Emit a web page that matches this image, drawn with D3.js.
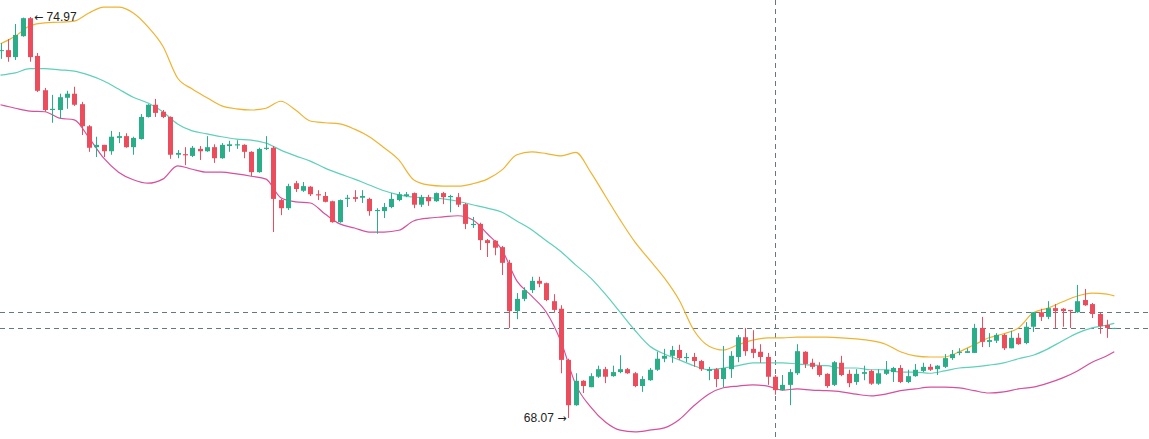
<!DOCTYPE html>
<html><head><meta charset="utf-8">
<script src="https://cdn.jsdelivr.net/npm/d3@7"></script>
<style>html,body{margin:0;padding:0;background:#fff;}svg{display:block;}</style>
</head><body>
<svg id="chart" width="1149" height="439"></svg>
<script>
// ---- data ----
const open = [
74.39,74.40,74.28,74.64,74.95,74.30,73.71,73.37,73.37,73.58,
73.65,73.47,73.09,72.73,72.77,72.66,72.89,72.92,72.73,72.87,
73.25,73.46,73.34,73.25,72.60,72.61,72.58,72.70,72.66,72.73,
72.54,72.75,72.76,72.77,72.65,72.30,72.70,72.72,71.82,71.68,
72.11,71.98,72.05,71.92,71.89,71.80,71.44,71.84,71.87,71.86,
71.84,71.63,71.63,71.70,71.82,71.89,71.94,71.74,71.87,71.80,
71.94,71.87,71.87,71.75,71.39,71.41,71.13,71.12,71.01,70.74,
69.91,70.12,70.27,70.43,70.39,70.08,69.95,69.07,68.29,68.71,
68.60,68.78,68.91,68.79,68.86,68.91,68.84,68.62,68.72,68.90,
69.09,69.14,69.24,69.10,69.12,69.05,68.88,68.91,68.74,68.91,
69.12,69.46,69.26,69.21,69.12,68.78,68.55,68.64,68.84,69.21,
69.02,68.97,68.83,68.64,69.02,68.83,68.69,68.83,68.88,68.66,
68.83,68.86,68.93,68.69,68.79,68.88,68.95,68.91,68.95,69.10,
69.19,69.19,69.19,69.62,69.38,69.40,69.50,69.27,69.45,69.36,
69.64,69.89,69.81,69.96,69.95,69.93,69.89,70.10,70.03,69.86,
69.67,69.61];
const high = [
74.52,74.59,74.85,74.96,74.97,74.35,73.75,73.63,73.65,73.70,
73.77,73.51,73.11,72.91,72.77,73.01,72.99,72.97,72.91,73.30,
73.47,73.56,73.37,73.26,72.68,72.73,72.75,72.75,72.92,72.78,
72.80,72.84,72.85,72.78,72.66,72.72,72.92,72.75,71.84,72.10,
72.15,72.13,72.06,71.99,71.96,71.81,71.83,71.91,71.99,71.99,
71.86,71.68,71.77,71.94,71.96,71.96,71.95,71.91,71.91,71.95,
71.96,71.91,71.94,71.77,71.53,71.43,71.15,71.13,71.03,70.79,
70.22,70.32,70.50,70.50,70.40,70.20,70.01,69.09,68.84,68.72,
68.84,68.97,68.95,68.97,69.15,68.93,68.86,68.79,68.93,69.21,
69.26,69.31,69.33,69.19,69.19,69.07,68.95,68.93,69.31,69.22,
69.50,69.62,69.58,69.34,69.19,68.81,68.81,68.91,69.34,69.22,
69.09,69.03,68.84,69.05,69.14,68.90,68.91,68.97,68.90,68.91,
69.05,68.95,68.98,68.90,69.00,69.02,69.00,68.98,69.17,69.24,
69.27,69.27,69.69,69.81,69.53,69.53,69.52,69.57,69.53,69.72,
69.89,69.95,70.08,70.03,69.96,69.93,70.36,70.29,70.05,69.88,
69.76,69.62];
const low = [
74.25,74.20,74.23,74.63,74.20,73.68,73.34,73.15,73.22,73.39,
73.44,72.94,72.65,72.56,72.56,72.60,72.80,72.72,72.60,72.86,
73.24,73.25,73.23,72.53,72.54,72.42,72.56,72.51,72.65,72.46,
72.53,72.65,72.70,72.54,72.23,72.29,72.68,71.27,71.56,71.65,
71.96,71.96,71.89,71.82,71.78,71.43,71.43,71.70,71.79,71.77,
71.55,71.24,71.51,71.68,71.80,71.87,71.68,71.70,71.72,71.79,
71.75,71.61,71.70,71.32,71.34,70.96,70.84,70.87,70.53,69.62,
69.77,70.08,70.22,70.32,70.08,69.88,68.84,68.07,68.28,68.50,
68.60,68.76,68.67,68.78,68.84,68.83,68.60,68.52,68.71,68.88,
69.03,69.02,69.07,69.03,68.95,68.88,68.72,68.60,68.60,68.76,
69.03,69.14,69.10,69.02,68.64,68.47,68.54,68.29,68.81,68.93,
68.91,68.78,68.59,68.62,68.79,68.60,68.64,68.72,68.64,68.64,
68.81,68.69,68.67,68.67,68.78,68.86,68.88,68.81,68.93,69.07,
69.15,69.19,69.19,69.29,69.29,69.36,69.24,69.27,69.33,69.34,
69.55,69.74,69.77,69.62,69.64,69.62,69.88,70.00,69.79,69.52,
69.45,69.61];
const close = [
74.40,74.28,74.66,74.95,74.28,73.70,73.37,73.39,73.59,73.65,
73.46,73.09,72.72,72.77,72.66,72.91,72.92,72.73,72.89,73.25,
73.46,73.32,73.25,72.60,72.63,72.59,72.72,72.66,72.73,72.54,
72.77,72.78,72.78,72.65,72.30,72.70,72.72,71.84,71.68,72.06,
72.01,72.06,71.92,71.90,71.79,71.44,71.82,71.86,71.84,71.89,
71.63,71.65,71.70,71.84,71.92,71.92,71.74,71.87,71.80,71.94,
71.87,71.89,71.74,71.41,71.41,71.13,71.08,71.00,70.74,69.91,
70.12,70.27,70.43,70.38,70.10,69.93,69.07,68.29,68.71,68.62,
68.79,68.91,68.78,68.86,68.91,68.84,68.62,68.74,68.90,69.09,
69.14,69.24,69.10,69.12,69.05,68.91,68.91,68.74,68.93,69.14,
69.46,69.22,69.19,69.12,68.78,68.55,68.64,68.86,69.22,69.00,
68.95,68.81,68.62,69.03,68.81,68.67,68.83,68.86,68.66,68.84,
68.90,68.93,68.69,68.79,68.90,68.95,68.90,68.97,69.10,69.17,
69.21,69.22,69.62,69.38,69.41,69.50,69.27,69.45,69.34,69.64,
69.89,69.81,69.96,69.91,69.91,69.91,70.08,70.01,69.86,69.65,
69.62,69.62];

// Bollinger band readings, sampled at every second candle (plus the last one)
const bandIdx = d3.range(0, 151, 2).concat([151]);
const bollUpper = [
74.51,74.64,74.82,74.87,74.88,74.90,75.04,75.14,75.14,75.04,
74.80,74.47,73.92,73.73,73.58,73.44,73.39,73.37,73.40,73.52,
73.37,73.18,73.15,73.13,73.04,72.91,72.72,72.51,72.17,72.08,
72.06,72.06,72.10,72.18,72.34,72.60,72.65,72.62,72.58,72.64,
72.30,71.89,71.48,71.10,70.79,70.48,70.10,69.58,69.31,69.24,
69.33,69.41,69.45,69.45,69.46,69.46,69.46,69.45,69.43,69.40,
69.34,69.21,69.14,69.12,69.12,69.21,69.33,69.45,69.52,69.62,
69.88,69.96,70.07,70.17,70.22,70.20,
70.17];
const bollMid = [
73.97,74.01,74.08,74.08,74.06,74.04,73.97,73.87,73.73,73.59,
73.49,73.34,73.13,73.01,72.96,72.91,72.87,72.85,72.80,72.68,
72.58,72.49,72.37,72.27,72.18,72.08,71.98,71.91,71.87,71.86,
71.84,71.80,71.74,71.68,71.61,71.46,71.31,71.12,70.93,70.70,
70.48,70.20,69.89,69.58,69.31,69.17,69.07,68.97,68.90,68.93,
68.97,69.02,69.02,69.02,69.00,68.98,68.97,68.93,68.93,68.90,
68.90,68.86,68.86,68.84,68.88,68.93,68.95,68.98,69.02,69.09,
69.15,69.26,69.40,69.53,69.62,69.67,
69.70];
const bollLower = [
73.46,73.40,73.35,73.34,73.23,73.20,72.89,72.54,72.30,72.17,
72.11,72.18,72.41,72.35,72.30,72.30,72.27,72.23,72.18,71.86,
71.79,71.77,71.58,71.41,71.34,71.27,71.27,71.30,71.46,71.51,
71.53,71.55,71.48,71.24,70.96,70.43,70.17,69.89,69.38,68.64,
68.26,68.00,67.86,67.83,67.86,67.90,68.04,68.28,68.48,68.59,
68.62,68.64,68.62,68.55,68.57,68.55,68.54,68.52,68.48,68.45,
68.48,68.54,68.57,68.60,68.60,68.59,68.54,68.50,68.52,68.57,
68.60,68.67,68.76,68.88,69.03,69.14,
69.21];

const priceLines = [69.89, 69.62];   // horizontal dashed lines
const crosshairIndex = 105;           // vertical dashed line

// ---- drawing ----
const W = 1149, H = 439;
const svg = d3.select("#chart");
const n = close.length;
const x = d3.scaleLinear().domain([0, n - 1]).range([0.5, 1114.3]);
const yMax = d3.max(high), yMin = d3.min(low);
const y = d3.scaleLinear().domain([yMin, yMax]).range([418, 17]);

const UP = "#2aae8a", DOWN = "#eb4d5c";
const candles = d3.range(n).map(i => ({i, o: open[i], h: high[i], l: low[i], c: close[i]}));

// dashed lines
const dash = "5,4";
const dashColor = "#65787f";
svg.append("g").selectAll("line").data(priceLines).join("line")
  .attr("x1", 0).attr("x2", W)
  .attr("y1", d => Math.round(y(d)) + 0.5).attr("y2", d => Math.round(y(d)) + 0.5)
  .attr("stroke", dashColor).attr("stroke-width", 1).attr("stroke-dasharray", dash);
svg.append("line")
  .attr("x1", Math.round(x(crosshairIndex)) + 0.5).attr("x2", Math.round(x(crosshairIndex)) + 0.5)
  .attr("y1", 0).attr("y2", H)
  .attr("stroke", dashColor).attr("stroke-width", 1).attr("stroke-dasharray", dash);

// bands
const bands = [
  {v: bollUpper, color: "#f0b330"},
  {v: bollMid, color: "#5fd0bb"},
  {v: bollLower, color: "#d6509b"}
];
const line = d3.line().x(d => x(d[0])).y(d => y(d[1])).curve(d3.curveMonotoneX);
svg.append("g").selectAll("path").data(bands).join("path")
  .attr("d", b => line(bandIdx.map((k, j) => [k, b.v[j]])))
  .attr("fill", "none").attr("stroke", b => b.color).attr("stroke-width", 1.2);

// candles
const bw = 5;
const g = svg.append("g");
g.selectAll("line.wick").data(candles).join("line").attr("class", "wick")
  .attr("x1", d => Math.round(x(d.i)) + 0.5).attr("x2", d => Math.round(x(d.i)) + 0.5)
  .attr("y1", d => y(d.h)).attr("y2", d => y(d.l))
  .attr("stroke", d => d.c >= d.o ? UP : DOWN).attr("stroke-width", 1);
g.selectAll("rect.body").data(candles).join("rect").attr("class", "body")
  .attr("x", d => Math.round(x(d.i)) + 0.5 - bw / 2)
  .attr("y", d => y(Math.max(d.o, d.c)))
  .attr("width", bw)
  .attr("height", d => Math.max(1, Math.abs(y(d.o) - y(d.c))))
  .attr("fill", d => d.c >= d.o ? UP : DOWN);

// high / low markers
const iMax = d3.maxIndex(high), iMin = d3.minIndex(low);
const font = "Arial, 'Liberation Sans', sans-serif";
const tMax = svg.append("text").attr("x", x(iMax) + 4).attr("y", y(high[iMax]))
  .attr("dy", "0.35em").attr("font-family", font).attr("font-size", 12).attr("fill", "#222");
tMax.append("tspan").attr("font-family", "'DejaVu Sans'").attr("font-size", 11).text("←");
tMax.append("tspan").text(" " + high[iMax].toFixed(2));
const tMin = svg.append("text").attr("x", x(iMin) - 2).attr("y", y(low[iMin]))
  .attr("dy", "0.35em").attr("text-anchor", "end").attr("font-family", font).attr("font-size", 12).attr("fill", "#222");
tMin.append("tspan").text(low[iMin].toFixed(2) + " ");
tMin.append("tspan").attr("font-family", "'DejaVu Sans'").attr("font-size", 11).text("→");
</script>
</body></html>
